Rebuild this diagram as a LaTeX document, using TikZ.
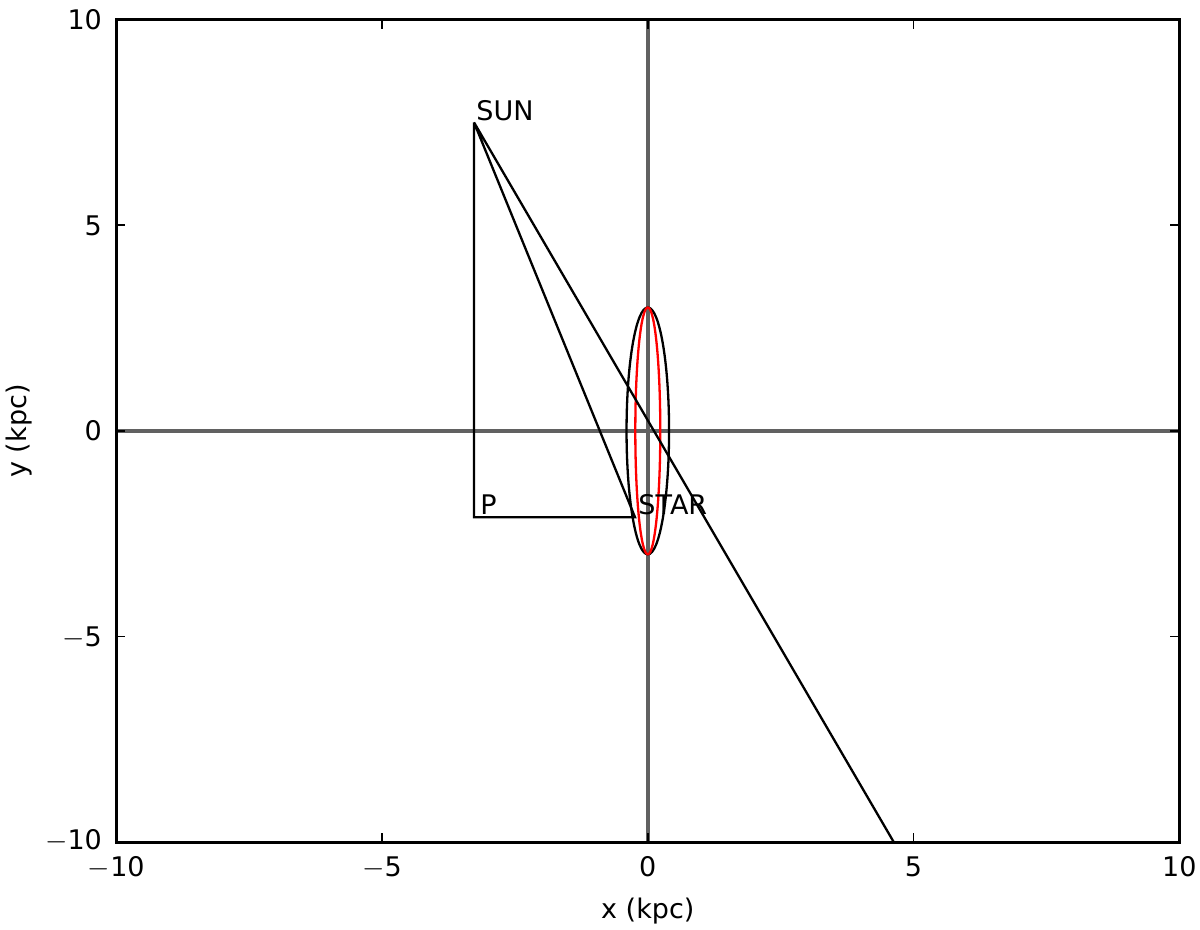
\documentclass[tikz,border=0pt]{standalone}
\usepackage{fontspec}
\setmainfont{DejaVu Sans}
\begin{document}
\begin{tikzpicture}[x=26.575pt,y=20.57pt,
  spine/.style={line width=1.3pt,black},
  zeroline/.style={line width=1.9pt,black!62},
  dataline/.style={line width=1.15pt,black},
  tickmark/.style={line width=0.8pt,black},
  ticklabel/.style={font=\fontsize{13.5}{16}\selectfont,inner sep=0pt,text depth=0pt},
  axlabel/.style={font=\fontsize{13.5}{16}\selectfont,inner sep=0pt},
  ptlabel/.style={font=\fontsize{13.5}{16}\selectfont,inner sep=0pt,anchor=base west}]
\useasboundingbox (-12.188,-12.108) rectangle (10.389,10.474);
% zero lines
\coordinate (hl) at (-10,0); \coordinate (hr) at (10,0);
\coordinate (vb) at (0,-10); \coordinate (vt) at (0,10);
\draw[zeroline] (hl) -- (hr);
\draw[zeroline] (vb) -- (vt);
% ellipses
\draw[line width=1.15pt,black] (0,0) ellipse [x radius=0.40,y radius=3];
\draw[line width=1.15pt,red] (0,0) ellipse [x radius=0.235,y radius=3];
% points
\coordinate (sun) at (-3.27,7.5);
\coordinate (p) at (-3.27,-2.1);
\coordinate (star) at (-0.24,-2.1);
\coordinate (far) at (4.63,-10);
\draw[dataline] (sun) -- (p) -- (star) -- (sun) -- (far);
\node[ptlabel] (sunl) at ([xshift=1pt,yshift=1pt]sun) {SUN};
\node[ptlabel] (pl) at ([xshift=3pt,yshift=1.5pt]p) {P};
\node[ptlabel] (starl) at ([xshift=1.5pt,yshift=1.5pt]star) {STAR};
% frame
\draw[spine] (-10,-10) rectangle (10,10);
% ticks
\foreach \v in {-10,-5,0,5,10}{
  \draw[tickmark] (\v,-10) -- ++(0,4.5pt);
  \draw[tickmark] (\v,10) -- ++(0,-4.5pt);
  \draw[tickmark] (-10,\v) -- ++(4.5pt,0);
  \draw[tickmark] (10,\v) -- ++(-4.5pt,0);
}
\foreach \v/\t in {-10/$-$10,-5/$-$5,0/0,5/5,10/10}{
  \node[ticklabel,anchor=north] at ([yshift=-7pt]\v,-10) {\t};
}
\foreach \v/\t/\s in {-10/$-$10/1.5pt,-5/$-$5/0pt,0/0/0pt,5/5/0pt,10/10/0pt}{
  \node[ticklabel,anchor=east] at ([xshift=-7pt,yshift=\s]-10,\v) {\t};
}
\node[axlabel] (xl) at (0,-11.67) {x (kpc)};
\node[axlabel,rotate=90] (yl) at (-11.82,0) {y (kpc)};
\end{tikzpicture}
\end{document}
